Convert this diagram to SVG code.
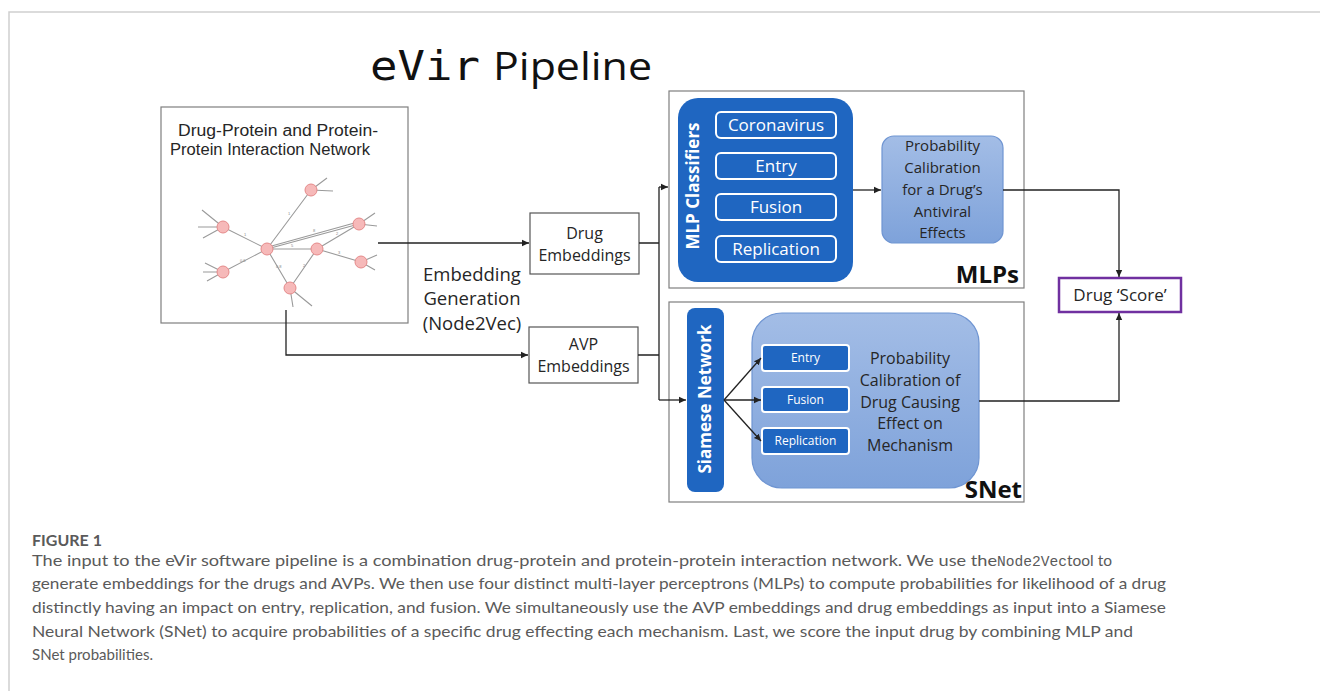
<svg xmlns="http://www.w3.org/2000/svg" width="1320" height="691" viewBox="0 0 1320 691">
<defs>
<style>
.frame{stroke:#cfcfcf;stroke-width:1.5;fill:none}
.box{fill:#fff;stroke:#7f7f7f;stroke-width:1.2}
.ebox{fill:#fff;stroke:#555;stroke-width:1.2}
.dark{fill:#1f66c1}
.inner{fill:none;stroke:#fff;stroke-width:2}
.innerf{fill:#1f66c1;stroke:#fff;stroke-width:2}
.light{fill:url(#lg);stroke:#6f95d2;stroke-width:1.2}
.t{font-family:"Open Sans","Liberation Sans",sans-serif;fill:#262626}
.w{font-family:"Open Sans","Liberation Sans",sans-serif;fill:#fff}
.wire{stroke:#222;stroke-width:1.3;fill:none}
.edge{stroke:#9a9a9a;stroke-width:1.1;fill:none}
.nd{fill:#f6b9b9;stroke:#e58a8a;stroke-width:1}
.el{font-family:"Liberation Sans",sans-serif;font-size:4px;fill:#888}
.cap{font-family:Lato,"Liberation Sans",sans-serif;font-size:16px;fill:#5a5a5a}
</style>
<linearGradient id="lg" x1="0" y1="0" x2="0" y2="1">
<stop offset="0" stop-color="#a3bde6"/>
<stop offset="1" stop-color="#7ea2da"/>
</linearGradient>
<marker id="ar" markerWidth="8" markerHeight="8" refX="7" refY="4" orient="auto" markerUnits="userSpaceOnUse">
<path d="M0,0.8 L7,4 L0,7.2 z" fill="#222"/>
</marker>
</defs>
<rect width="1320" height="691" fill="#fff"/>
<path class="frame" d="M9,691 V12 H1320"/>

<g id="title">
<text x="370" y="80" font-family="DejaVu Sans Mono,Liberation Mono,monospace" font-size="40" fill="#111" textLength="110" lengthAdjust="spacingAndGlyphs">eVir</text>
<text x="493" y="80" font-family="Open Sans,Liberation Sans,sans-serif" font-size="38" fill="#111" textLength="159" lengthAdjust="spacingAndGlyphs">Pipeline</text>
</g>

<g id="network">
<rect class="box" x="161" y="107" width="247" height="216"/>
<text x="178" y="136" font-family="Liberation Sans,sans-serif" font-size="16" fill="#262626" textLength="200" lengthAdjust="spacingAndGlyphs">Drug-Protein and Protein-</text>
<text x="170" y="155" font-family="Liberation Sans,sans-serif" font-size="16" fill="#262626" textLength="200" lengthAdjust="spacingAndGlyphs">Protein Interaction Network</text>
<g>
<path class="edge" d="M267,249 L311,190 M267,249 L359,224 M268,247 L358,222 M267,249 L317,249 M267,249 L290,288 M267,249 L223,227 M267,249 L223,272 M317,249 L359,224 M317,249 L361,262 M317,249 L290,288"/>
<path class="edge" d="M311,190 L327,178 M311,190 L333,191 M223,227 L202,210 M223,227 L198,227 M223,227 L203,238 M223,272 L205,263 M223,272 L203,272 M223,272 L207,281 M359,224 L375,213 M359,224 L377,226 M361,262 L377,255 M361,262 L375,270 M290,288 L293,307 M290,288 L312,306"/>
<circle class="nd" cx="267" cy="249" r="6"/>
<circle class="nd" cx="311" cy="190" r="6"/>
<circle class="nd" cx="359" cy="224" r="6"/>
<circle class="nd" cx="317" cy="249" r="6"/>
<circle class="nd" cx="361" cy="262" r="6"/>
<circle class="nd" cx="290" cy="288" r="6"/>
<circle class="nd" cx="223" cy="227" r="6"/>
<circle class="nd" cx="223" cy="272" r="6"/>
<text class="el" x="288" y="215">1</text>
<text class="el" x="244" y="236">1</text>
<text class="el" x="313" y="232">8</text>
<text class="el" x="291" y="247">5</text>
<text class="el" x="336" y="235">2</text>
<text class="el" x="338" y="254">3</text>
<text class="el" x="240" y="262">0.6</text>
<text class="el" x="276" y="268">0.8</text>
<text class="el" x="303" y="267">2</text>
</g>
</g>

<g id="drug-embeddings">
<rect class="ebox" x="530" y="213" width="109" height="61"/>
<text class="t" x="584.5" y="239" font-size="16" text-anchor="middle">Drug</text>
<text class="t" x="584.5" y="261" font-size="16" text-anchor="middle">Embeddings</text>
</g>

<g id="avp-embeddings">
<rect class="ebox" x="529" y="327" width="109" height="56"/>
<text class="t" x="583.5" y="350" font-size="16" text-anchor="middle">AVP</text>
<text class="t" x="583.5" y="372" font-size="16" text-anchor="middle">Embeddings</text>
</g>

<g id="embedding-label">
<text class="t" x="472" y="281" font-size="18.5" text-anchor="middle">Embedding</text>
<text class="t" x="472" y="305" font-size="18.5" text-anchor="middle">Generation</text>
<text class="t" x="472" y="330" font-size="18.5" text-anchor="middle">(Node2Vec)</text>
</g>

<g id="mlps">
<rect class="box" x="669" y="91" width="355" height="197"/>
<rect class="dark" x="678" y="98" width="175" height="184" rx="20"/>
<text class="w" font-size="17" font-weight="bold" text-anchor="middle" transform="translate(699,186) rotate(-90)">MLP Classifiers</text>
<rect class="inner" x="716" y="112" width="120" height="26" rx="5"/>
<rect class="inner" x="716" y="153" width="120" height="26" rx="5"/>
<rect class="inner" x="716" y="194" width="120" height="26" rx="5"/>
<rect class="inner" x="716" y="236" width="120" height="26" rx="5"/>
<text class="w" x="776" y="131" font-size="17" text-anchor="middle">Coronavirus</text>
<text class="w" x="776" y="172" font-size="17" text-anchor="middle">Entry</text>
<text class="w" x="776" y="213" font-size="17" text-anchor="middle">Fusion</text>
<text class="w" x="776" y="255" font-size="17" text-anchor="middle">Replication</text>
<rect class="light" x="882" y="136" width="121" height="107" rx="12"/>
<text class="t" x="942.5" y="151" font-size="15" text-anchor="middle">Probability</text>
<text class="t" x="942.5" y="173" font-size="15" text-anchor="middle">Calibration</text>
<text class="t" x="942.5" y="195" font-size="15" text-anchor="middle">for a Drug’s</text>
<text class="t" x="942.5" y="217" font-size="15" text-anchor="middle">Antiviral</text>
<text class="t" x="942.5" y="238" font-size="15" text-anchor="middle">Effects</text>
<text x="1019" y="283" font-family="Open Sans,Liberation Sans,sans-serif" font-size="24" font-weight="bold" fill="#111" text-anchor="end">MLPs</text>
</g>

<g id="snet">
<rect class="box" x="669" y="302" width="355" height="200"/>
<rect class="dark" x="687" y="308" width="37" height="184" rx="8"/>
<text class="w" font-size="17" font-weight="bold" text-anchor="middle" transform="translate(711,399) rotate(-90)">Siamese Network</text>
<rect class="light" x="752" y="313" width="227" height="175" rx="30"/>
<rect class="innerf" x="762" y="345" width="87" height="26" rx="3"/>
<rect class="innerf" x="762" y="387" width="87" height="25" rx="3"/>
<rect class="innerf" x="762" y="428" width="87" height="26" rx="3"/>
<text class="w" x="805.5" y="362" font-size="12" text-anchor="middle">Entry</text>
<text class="w" x="805.5" y="404" font-size="12" text-anchor="middle">Fusion</text>
<text class="w" x="805.5" y="445" font-size="12" text-anchor="middle">Replication</text>
<text class="t" x="910" y="364" font-size="16" text-anchor="middle">Probability</text>
<text class="t" x="910" y="386" font-size="16" text-anchor="middle">Calibration of</text>
<text class="t" x="910" y="408" font-size="16" text-anchor="middle">Drug Causing</text>
<text class="t" x="910" y="429" font-size="16" text-anchor="middle">Effect on</text>
<text class="t" x="910" y="451" font-size="16" text-anchor="middle">Mechanism</text>
<text x="1022" y="498" font-family="Open Sans,Liberation Sans,sans-serif" font-size="24" font-weight="bold" fill="#111" text-anchor="end">SNet</text>
</g>

<g id="drug-score">
<rect x="1059" y="278" width="122" height="34" fill="#fff" stroke="#7030a0" stroke-width="2.5"/>
<text class="t" x="1120" y="301" font-size="17" text-anchor="middle">Drug ‘Score’</text>
</g>

<g id="connectors">
<path class="wire" marker-end="url(#ar)" d="M378,243 H529"/>
<path class="wire" marker-end="url(#ar)" d="M286,310 V355 H528"/>
<path class="wire" d="M639,243 H659 M638,355 H659 M659,187 V400"/>
<path class="wire" marker-end="url(#ar)" d="M659,187 H668"/>
<path class="wire" marker-end="url(#ar)" d="M659,400 H686"/>
<path class="wire" marker-end="url(#ar)" d="M853,190 H881"/>
<path class="wire" marker-end="url(#ar)" d="M724,400 L761,358"/>
<path class="wire" marker-end="url(#ar)" d="M724,400 H761"/>
<path class="wire" marker-end="url(#ar)" d="M724,400 L761,441"/>
<path class="wire" marker-end="url(#ar)" d="M1003,190 H1119 V277"/>
<path class="wire" marker-end="url(#ar)" d="M979,401 H1119 V313"/>
</g>

<g id="caption">
<text class="cap" x="32" y="546" font-weight="bold" fill="#555">FIGURE 1</text>
<text class="cap" x="32" y="566" textLength="965" lengthAdjust="spacingAndGlyphs">The input to the eVir software pipeline is a combination drug-protein and protein-protein interaction network. We use the</text>
<text x="997" y="566" font-family="Liberation Mono,monospace" font-size="14.6" fill="#5a5a5a" textLength="70" lengthAdjust="spacingAndGlyphs">Node2Vec</text>
<text class="cap" x="1067" y="566" textLength="45" lengthAdjust="spacingAndGlyphs">tool to</text>
<text class="cap" x="32" y="589" textLength="1134" lengthAdjust="spacingAndGlyphs">generate embeddings for the drugs and AVPs. We then use four distinct multi-layer perceptrons (MLPs) to compute probabilities for likelihood of a drug</text>
<text class="cap" x="32" y="613" textLength="1134" lengthAdjust="spacingAndGlyphs">distinctly having an impact on entry, replication, and fusion. We simultaneously use the AVP embeddings and drug embeddings as input into a Siamese</text>
<text class="cap" x="32" y="637" textLength="1101" lengthAdjust="spacingAndGlyphs">Neural Network (SNet) to acquire probabilities of a specific drug effecting each mechanism. Last, we score the input drug by combining MLP and</text>
<text class="cap" x="32" y="660" textLength="121" lengthAdjust="spacingAndGlyphs">SNet probabilities.</text>
</g>
</svg>
